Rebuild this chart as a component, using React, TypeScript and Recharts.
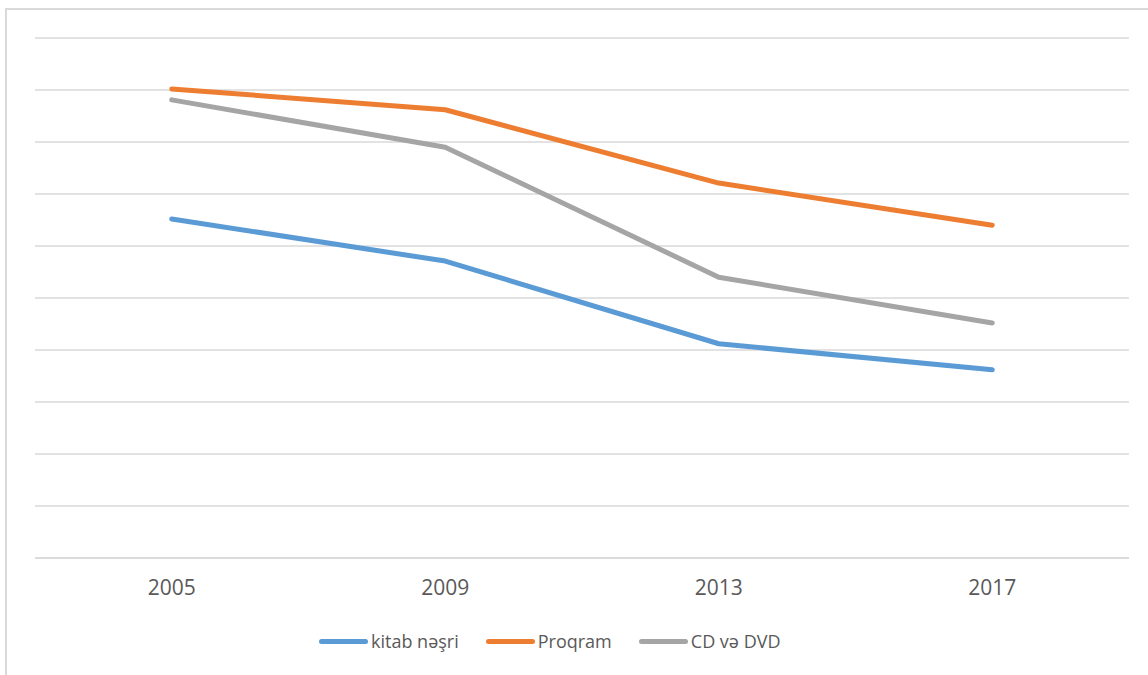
import { LineChart, Line, XAxis, YAxis, CartesianGrid, Legend } from "recharts";

const years = ["2005", "2009", "2013", "2017"];
const kitabNesri = [6.52, 5.71, 4.12, 3.62];
const proqram = [9.02, 8.62, 7.21, 6.4];
const cdDvd = [8.81, 7.9, 5.4, 4.52];
const yTicks = [0, 1, 2, 3, 4, 5, 6, 7, 8, 9, 10];

const series = [
  { key: "kitab", name: "kitab nəşri", color: "#5B9BD5" },
  { key: "proqram", name: "Proqram", color: "#ED7D31" },
  { key: "cd", name: "CD və DVD", color: "#A5A5A5" },
];

const chartData = years.map((year, i) => ({
  year,
  kitab: kitabNesri[i],
  proqram: proqram[i],
  cd: cdDvd[i],
}));

const LegendContent = () => (
  <div style={{ display: "flex", height: 30, alignItems: "center", paddingLeft: 319 }}>
    {series.map((s) => (
      <div key={s.key} style={{ display: "flex", alignItems: "center", marginRight: 27 }}>
        <div style={{ width: 49, height: 5, borderRadius: 3, background: s.color, marginRight: 3 }} />
        <span style={{ fontSize: 18, color: "#595959", fontFamily: "'Open Sans', sans-serif" }}>{s.name}</span>
      </div>
    ))}
  </div>
);

export default function App() {
  return (
    <div style={{ position: "fixed", left: 0, top: 0, width: 1148, height: 675, background: "#fff", overflow: "hidden" }}>
      <div
        style={{
          position: "absolute",
          left: 5,
          top: 8,
          width: 1200,
          height: 700,
          border: "2px solid #d9d9d9",
        }}
      />
      <div style={{ position: "absolute", left: 0, top: 0 }}>
        <LineChart width={1148} height={675} data={chartData} margin={{ top: 38, right: 19, left: 35, bottom: 57 }}>
          <CartesianGrid horizontal vertical={false} stroke="#d9d9d9" strokeWidth={1.5} />
          <XAxis
            dataKey="year"
            scale="band"
            axisLine={{ stroke: "#d9d9d9", strokeWidth: 1.5 }}
            tickLine={false}
            tickMargin={16}
            tick={{ fill: "#595959", fontSize: 21, fontFamily: "'Open Sans', sans-serif" }}
          />
          <YAxis hide domain={[0, 10]} ticks={yTicks} />
          <Legend verticalAlign="bottom" content={<LegendContent />} wrapperStyle={{ bottom: 19, left: 0 }} />
          {series.map((s) => (
            <Line
              key={s.key}
              dataKey={s.key}
              name={s.name}
              stroke={s.color}
              strokeWidth={5}
              strokeLinecap="round"
              strokeLinejoin="round"
              dot={false}
              activeDot={false}
              isAnimationActive={false}
            />
          ))}
        </LineChart>
      </div>
    </div>
  );
}
